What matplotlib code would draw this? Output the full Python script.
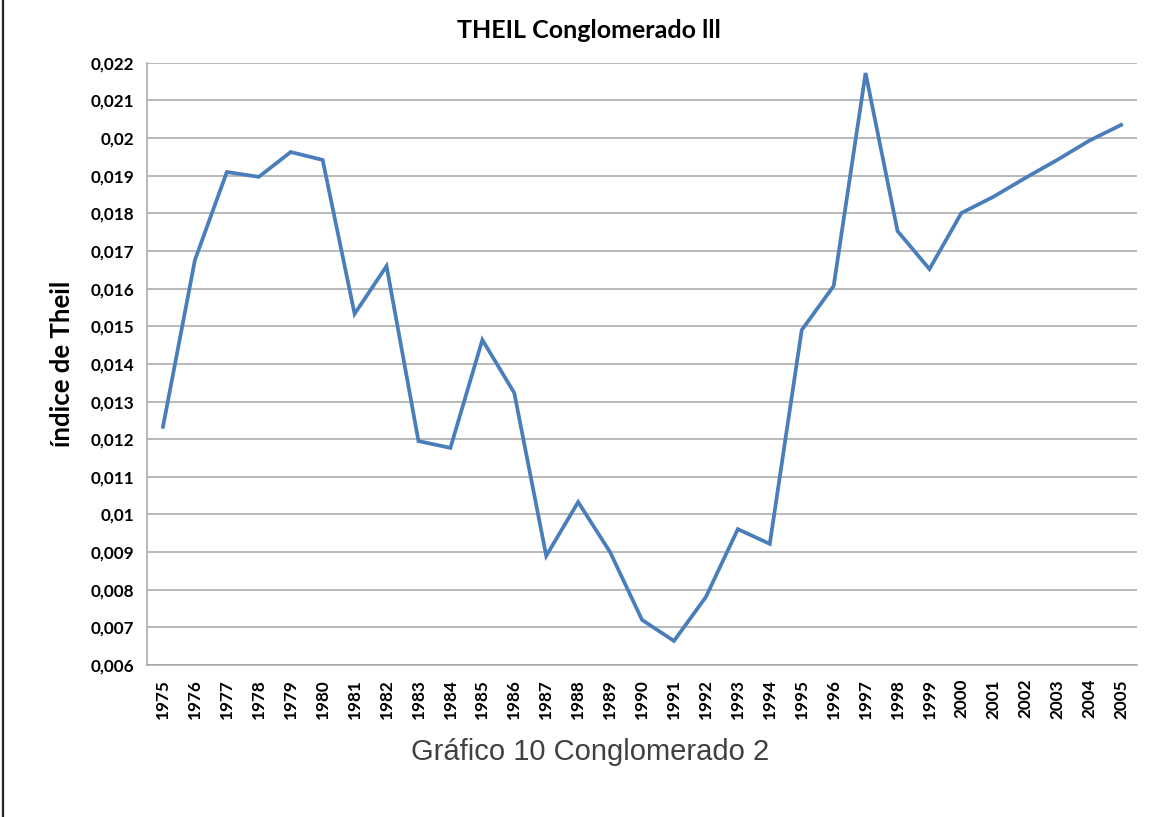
import matplotlib.pyplot as plt
from matplotlib.lines import Line2D
from matplotlib.ticker import FuncFormatter

years = [str(y) for y in range(1975, 2006)]
theil = [0.01233, 0.01676, 0.01910, 0.01897, 0.01963, 0.01942, 0.01533, 0.01660,
         0.01195, 0.01177, 0.01464, 0.01323, 0.00890, 0.01033, 0.00900, 0.00720,
         0.00664, 0.00781, 0.00961, 0.00922, 0.01490, 0.01607, 0.02173, 0.01753,
         0.01652, 0.01801, 0.01844, 0.01894, 0.01942, 0.01993, 0.02035]
y_ticks = [0.006 + 0.001 * i for i in range(17)]

bold_font = 'Lato'

fig = plt.figure(figsize=(11.63, 8.17), dpi=100)
ax = fig.add_axes([0.1264, 0.186, 0.8513, 0.7371])

x = list(range(len(years)))
ax.plot(x, theil, color='#4a7ebb', linewidth=2.7, solid_joinstyle='miter')

ax.set_xlim(-0.5, len(years) - 0.5)
ax.set_ylim(0.006, 0.022)
ax.set_yticks(y_ticks)
ax.yaxis.set_major_formatter(FuncFormatter(lambda v, p: f'{round(v, 3):g}'.replace('.', ',')))
ax.set_xticks(x)
ax.set_xticklabels(years, rotation=90)

for lbl in ax.get_xticklabels() + ax.get_yticklabels():
    lbl.set_fontfamily(bold_font)
    lbl.set_fontweight('bold')
    lbl.set_fontsize(12.3)

ax.grid(axis='y', color='#a6a6a6', linewidth=1.1)
ax.set_axisbelow(True)
ax.tick_params(axis='both', length=0, pad=10)
ax.tick_params(axis='y', pad=9)
for side in ['top', 'right']:
    ax.spines[side].set_visible(False)
for side in ['left', 'bottom']:
    ax.spines[side].set_color('#a6a6a6')
    ax.spines[side].set_linewidth(1.1)

ax.set_ylabel('índice de Theil', fontfamily=bold_font, fontweight='bold', fontsize=18.5, labelpad=12)
fig.text(0.506, 0.963, 'THEIL Conglomerado lll', ha='center', va='center',
         fontfamily=bold_font, fontweight='bold', fontsize=18)
fig.text(0.507, 0.079, 'Gráfico 10 Conglomerado 2', ha='center', va='center',
         fontfamily='Liberation Sans', fontsize=21, color='#404040')

fig.add_artist(Line2D([0.0028, 0.0028], [0, 1], transform=fig.transFigure, color='#222222', linewidth=1.6))

fig.savefig('out.png', dpi=100)
